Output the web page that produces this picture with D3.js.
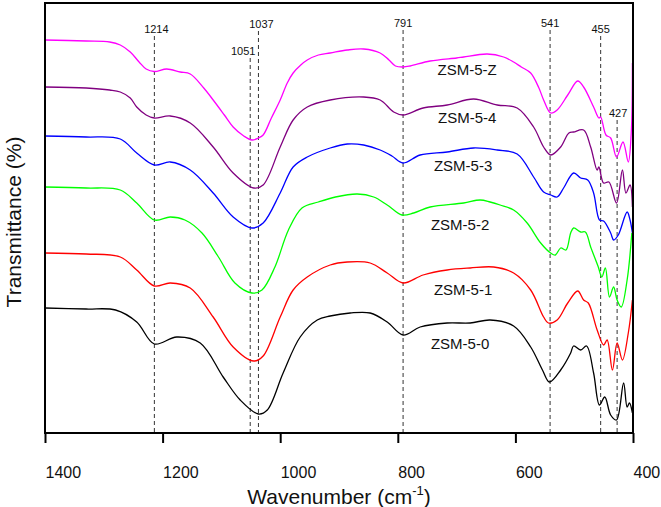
<!DOCTYPE html>
<html>
<head>
<meta charset="utf-8">
<script src="https://cdn.jsdelivr.net/npm/d3@7"></script>
<style>
  body { margin: 0; background: #fff; }
  text { font-family: Arial, "Liberation Sans", sans-serif; fill: #111; }
</style>
</head>
<body>
<div class="container"></div>
<script>
// spectra, [wavenumber, transmittance (a.u., offset per sample)]
const zsm5Z = [[1400,393],[1330,392],[1290,391],[1272,388],[1255,381],[1240,371],[1228,364],[1214,361.5],[1193,364],[1170,361],[1153,359],[1130,345],[1114,333],[1095,318],[1080,306],[1062,297],[1048,293],[1037,295],[1029,298],[1015,315],[1000,333],[988,350],[978,360],[965,368],[954,373],[935,378],[915,380],[886,383],[858,384],[830,380],[815,373],[804,367],[791,366],[779,367],[745,372],[700,375],[688,376],[648,379],[620,376],[603,371],[590,366],[574,360],[560,345],[552,333],[540,320],[529,323],[511,338],[494,352],[484,346],[467,326],[458,315],[455,316],[446,298],[438,295],[428,276],[417,291],[408,271],[403,300],[401,370]]
const zsm54 = [[1400,346],[1330,345],[1290,343],[1272,341],[1255,335],[1244,326],[1228,318],[1214,315],[1187,317],[1153,310],[1114,286],[1080,260],[1045,245],[1029,248],[1000,286],[978,313],[954,326],[915,333],[858,336],[830,333],[807,321],[791,318],[757,325],[716,328],[671,334],[631,328],[597,325],[569,306],[552,286],[540,278],[523,286],[509,300],[501,301],[484,303],[472,286],[461,263],[458,266],[450,250],[441,251],[428,230],[418,263],[412,240],[405,248],[401,226]]
const zsm53 = [[1400,297],[1330,296],[1272,294],[1244,280],[1214,268],[1187,271],[1153,263],[1114,240],[1080,216],[1048,205],[1029,210],[1000,240],[978,266],[954,276],[915,285],[886,289],[858,288],[830,283],[810,277],[791,270],[762,278],[716,281],[671,285],[631,283],[597,279],[569,256],[552,241],[540,238],[529,236],[518,245],[501,260],[489,255],[477,253],[467,240],[457,213],[450,212],[438,200],[433,193],[425,198],[410,221],[405,213],[401,200]]
const zsm52 = [[1400,246],[1330,245],[1272,243],[1244,230],[1214,213],[1187,216],[1162,213],[1133,200],[1105,176],[1077,150],[1048,140],[1031,143],[1009,166],[986,203],[963,225],[935,231],[906,236],[869,239],[841,236],[818,228],[793,218],[773,220],[745,226],[688,230],[660,233],[643,231],[626,228],[603,223],[580,210],[557,190],[540,180],[532,178],[523,185],[514,183],[506,200],[501,205],[489,201],[481,201],[472,186],[459,166],[453,156],[447,165],[440,136],[433,146],[427,133],[420,126],[410,153],[402,200]]
const zsm51 = [[1400,180],[1330,179],[1272,176],[1244,163],[1214,147],[1187,150],[1153,145],[1114,116],[1080,86],[1045,72],[1029,77],[1000,116],[978,143],[954,156],[915,168],[886,171],[847,170],[818,160],[791,150],[757,158],[716,163],[677,165],[637,166],[603,160],[574,143],[552,116],[544,110],[529,113],[511,130],[494,142],[484,133],[476,130],[461,103],[450,88],[444,93],[435,63],[427,90],[418,73],[408,100],[401,133]]
const zsm50 = [[1400,125],[1330,124],[1280,123],[1244,111],[1214,89],[1176,96],[1136,90],[1097,56],[1068,33],[1037,19],[1022,23],[995,60],[966,96],[937,113],[915,117],[881,120],[847,120],[818,111],[791,98],[762,106],[716,110],[677,110],[643,113],[603,107],[574,86],[554,63],[542,51],[523,63],[506,80],[501,87],[489,83],[479,87],[467,60],[457,28],[448,36],[438,18],[428,13],[416,50],[410,26],[406,30],[401,20]]

const sampleNames = ['ZSM-5-Z', 'ZSM-5-4', 'ZSM-5-3', 'ZSM-5-2', 'ZSM-5-1', 'ZSM-5-0']
const peaks = [1214, 1051, 1037, 791, 541, 455, 427]
const xTicks = [1400, 1200, 1000, 800, 600, 400]

const colors = ['#ff00ff', '#800080', '#0000ff', '#00ff00', '#ff0000', '#000000']
// label anchor (wavenumber, value) per sample
const labelAt = [[682,363],[682,315],[689,267],[694,208],[689,143],[694,89]]
// peak label: top of dashed line (px), dx of label
const peakLayout = {
    1214: {top: 36, dx: 2},
    1051: {top: 58, dx: -7},
    1037: {top: 31, dx: 3},
    791: {top: 30, dx: 0},
    541: {top: 30, dx: 0},
    455: {top: 36, dx: 0},
    427: {top: 120, dx: 1}
}

let width = 661
let height = 507
let margin = {left: 45, right: 28, top: 3, bottom: 74}

let svg = d3.select('.container')
    .append('svg')
    .attr('width', width)
    .attr('height', height)

let x = d3.scaleLinear()
    .domain([1400, 400])
    .range([margin.left, width - margin.right])

let y = d3.scaleLinear()
    .domain([0, 430])
    .range([height - margin.bottom, margin.top])

const series = [zsm5Z, zsm54, zsm53, zsm52, zsm51, zsm50]

// dashed peak markers
svg.append('g')
    .selectAll('line')
    .data(peaks)
    .enter()
    .append('line')
    .attr('x1', d => x(d))
    .attr('x2', d => x(d))
    .attr('y1', d => peakLayout[d].top)
    .attr('y2', height - margin.bottom)
    .attr('stroke', '#333')
    .attr('stroke-width', 1)
    .attr('stroke-dasharray', '4,3')

svg.append('g')
    .selectAll('text')
    .data(peaks)
    .enter()
    .append('text')
    .attr('x', d => x(d) + peakLayout[d].dx)
    .attr('y', d => peakLayout[d].top - 3)
    .attr('text-anchor', 'middle')
    .attr('font-size', 11)
    .text(d => d)

let line = d3.line()
    .x(d => x(d[0]))
    .y(d => y(d[1]))
    .curve(d3.curveCatmullRom.alpha(0.5))

svg.append('g')
    .selectAll('path')
    .data(series)
    .enter()
    .append('path')
    .attr('d', line)
    .attr('fill', 'none')
    .attr('stroke', (d, i) => colors[i])
    .attr('stroke-width', 1.3)

svg.append('g')
    .selectAll('text')
    .data(sampleNames)
    .enter()
    .append('text')
    .attr('x', (d, i) => x(labelAt[i][0]))
    .attr('y', (d, i) => y(labelAt[i][1]))
    .attr('dy', '0.36em')
    .attr('text-anchor', 'middle')
    .attr('font-size', 15)
    .text(d => d)

// frame
svg.append('rect')
    .attr('x', margin.left)
    .attr('y', margin.top)
    .attr('width', width - margin.left - margin.right)
    .attr('height', height - margin.top - margin.bottom)
    .attr('fill', 'none')
    .attr('stroke', '#000')
    .attr('stroke-width', 2)

let xAxis = svg.append('g')
    .attr('transform', `translate(0,${height - margin.bottom})`)
    .call(d3.axisBottom(x).tickValues(xTicks).tickSize(10).tickFormat(d3.format('d')))
xAxis.select('.domain').remove()
xAxis.selectAll('.tick line').attr('stroke', '#000').attr('stroke-width', 2)
xAxis.selectAll('.tick text')
    .attr('font-size', 16)
    .attr('font-family', 'Arial, "Liberation Sans", sans-serif')
    .attr('text-anchor', 'start')
    .attr('fill', '#111')
    .attr('y', 0)
    .attr('dy', 45)

let xTitle = svg.append('text')
    .attr('x', (margin.left + width - margin.right) / 2)
    .attr('y', 504)
    .attr('text-anchor', 'middle')
    .attr('font-size', 21)
xTitle.append('tspan').text('Wavenumber (cm')
xTitle.append('tspan').attr('font-size', 13).attr('dy', -9).text('-1')
xTitle.append('tspan').attr('dy', 9).text(')')

svg.append('text')
    .attr('transform', 'translate(21,222) rotate(-90)')
    .attr('text-anchor', 'middle')
    .attr('font-size', 21)
    .text('Transmittance (%)')
</script>
</body>
</html>
